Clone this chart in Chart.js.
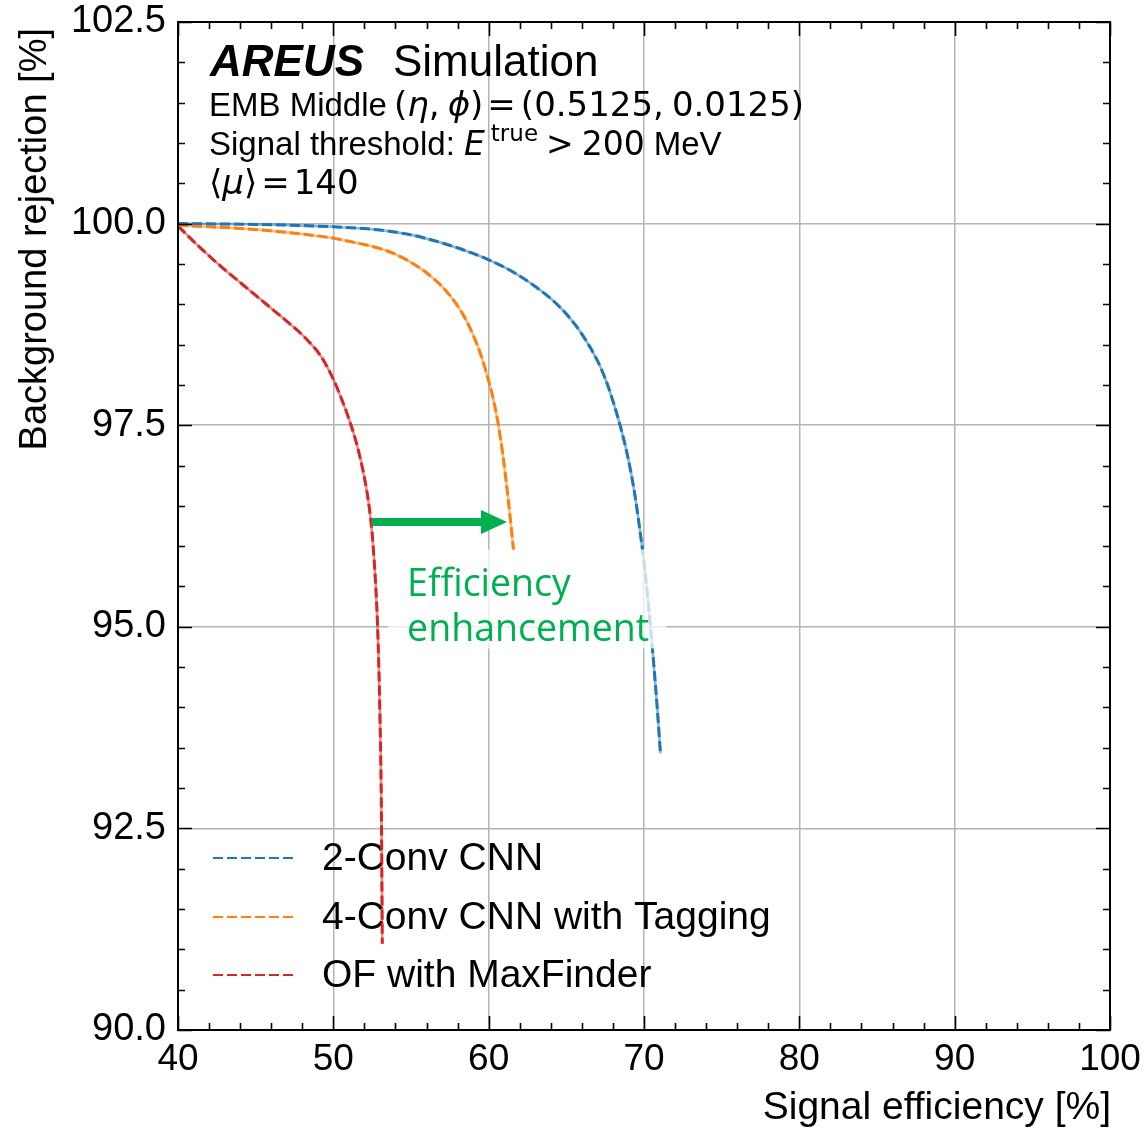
<!DOCTYPE html>
<html>
<head>
<meta charset="utf-8">
<script src="https://cdn.jsdelivr.net/npm/chart.js@4.4.1/dist/chart.umd.min.js"></script>
<style>
  html, body { margin: 0; padding: 0; background: #ffffff; }
  #wrap { width: 1144px; height: 1128px; }
</style>
</head>
<body>
<div id="wrap"><canvas id="c" width="1144" height="1128"></canvas></div>
<script>
// ROC-style curves: signal efficiency [%] vs background rejection [%]
const seriesNames = ['2-Conv CNN', '4-Conv CNN with Tagging', 'OF with MaxFinder'];
const seriesColors = ['#1f77b4', '#ff7f0e', '#d62728'];

const effTwoConv = [40, 45, 50, 53, 55, 57, 59, 60, 61, 62, 63, 64, 65, 66, 67, 67.5, 68, 68.5, 69, 69.4, 69.7, 70, 70.3, 70.6, 70.85, 71.06];
const rejTwoConv = [100.0, 99.99, 99.96, 99.92, 99.86, 99.76, 99.63, 99.55, 99.46, 99.35, 99.22, 99.07, 98.88, 98.63, 98.3, 98.08, 97.8, 97.47, 97.07, 96.65, 96.25, 95.8, 95.25, 94.6, 94.0, 93.43];

const effFourConv = [40, 42, 44, 46, 48, 50, 51, 52, 53, 54, 55, 56, 57, 57.5, 58, 58.5, 59, 59.5, 60, 60.3, 60.6, 60.9, 61.2, 61.4, 61.6];
const rejFourConv = [99.98, 99.96, 99.94, 99.91, 99.87, 99.82, 99.78, 99.74, 99.69, 99.62, 99.52, 99.39, 99.22, 99.11, 98.98, 98.82, 98.62, 98.37, 98.05, 97.82, 97.53, 97.15, 96.68, 96.33, 95.95];

const effOF = [40, 41, 42, 43, 44, 45, 46, 47, 48, 48.5, 49, 49.5, 50, 50.5, 51, 51.5, 52, 52.3, 52.5, 52.7, 52.85, 53.0, 53.1, 53.15];
const rejOF = [99.97, 99.78, 99.6, 99.43, 99.27, 99.11, 98.95, 98.79, 98.62, 98.52, 98.41, 98.26, 98.07, 97.84, 97.58, 97.27, 96.85, 96.5, 96.15, 95.6, 95.0, 93.9, 92.6, 91.07];

const xTicks = [40, 50, 60, 70, 80, 90, 100];
const yTicks = [90, 92.5, 95, 97.5, 100, 102.5];
const xMinorStep = 2;
const yMinorStep = 0.5;

// annotation anchors, in data units
const arrowFrom = { x: 52.49, y: 96.3 };
const arrowTo = { x: 61.18, y: 96.3 };
const noteAnchor = { x: 54.75, y: 95.55 };
const noteLines = ['Efficiency', 'enhancement'];

const FONT = '"Liberation Sans", Arial, Helvetica, sans-serif';
const MATH = '"DejaVu Sans", sans-serif';
const GREEN = '#00b050';

function toPoints(xs, ys) { return xs.map((x, i) => ({ x: x, y: ys[i] })); }
const allX = [effTwoConv, effFourConv, effOF];
const allY = [rejTwoConv, rejFourConv, rejOF];

const datasets = [];
// soft solid under-stroke for each curve
for (let i = 0; i < 3; i++) {
  datasets.push({
    label: '_under' + i,
    data: toPoints(allX[i], allY[i]),
    borderColor: seriesColors[i] + '88',
    borderWidth: 2.6,
    pointRadius: 0,
    showLine: true,
    cubicInterpolationMode: 'monotone'
  });
}
// dashed curves
for (let i = 0; i < 3; i++) {
  datasets.push({
    label: seriesNames[i],
    data: toPoints(allX[i], allY[i]),
    borderColor: seriesColors[i],
    borderWidth: 3,
    borderDash: [10, 4],
    pointRadius: 0,
    showLine: true,
    cubicInterpolationMode: 'monotone'
  });
}

// draws runs of text in mixed fonts: [text, font, dy, gapAfter]
function drawMixed(ctx, x, y, parts) {
  let cx = x;
  for (const p of parts) {
    ctx.font = p[1];
    ctx.fillText(p[0], cx, y + (p[2] || 0));
    cx += ctx.measureText(p[0]).width + (p[3] || 0);
  }
  return cx;
}

const decorations = {
  id: 'decorations',
  beforeDatasetsDraw(chart) {
    const ctx = chart.ctx;
    const a = chart.chartArea;
    ctx.save();
    ctx.fillStyle = '#000';
    ctx.textBaseline = 'alphabetic';
    ctx.textAlign = 'left';
    // header
    const x0 = a.left + 31;
    ctx.font = 'italic bold 44px ' + FONT;
    ctx.fillText('AREUS', x0 + 1, 76);
    ctx.font = '44px ' + FONT;
    ctx.fillText('Simulation', a.left + 215, 76);

    const f = '33px ' + FONT;
    const m = '34px ' + MATH, mi = 'oblique 34px ' + MATH, ms = '23px ' + MATH;
    drawMixed(ctx, x0, 116, [
      ['EMB Middle ', f, 0, -2],
      ['(', m], ['η', mi], [',', m, 0, 8], ['ϕ', mi], [')', m, 0, 4],
      ['=', m, 0, 5],
      ['(0.5125,', m, 0, 8], ['0.0125)', m]
    ]);
    drawMixed(ctx, x0, 155, [
      ['Signal threshold: ', f, 0, 0], ['E', 'oblique 33px ' + MATH, 0, 6], ['true', ms, -14, 8], ['>', '33px ' + MATH, 0, 8], ['200', '33px ' + MATH, 0, 9], ['MeV', f]
    ]);
    drawMixed(ctx, x0, 194, [
      ['⟨', m], ['μ', mi], ['⟩', m, 0, 4], ['=', m, 0, 4], ['140', m]
    ]);

    // legend
    const rowsY = [858, 917, 975];
    for (let i = 0; i < 3; i++) {
      ctx.save();
      ctx.strokeStyle = seriesColors[i];
      ctx.lineWidth = 2.2;
      ctx.setLineDash([10, 4]);
      ctx.beginPath();
      ctx.moveTo(a.left + 35, rowsY[i]);
      ctx.lineTo(a.left + 115, rowsY[i]);
      ctx.stroke();
      ctx.restore();
      ctx.font = '39px ' + FONT;
      ctx.textBaseline = 'middle';
      ctx.fillStyle = '#000';
      ctx.fillText(seriesNames[i], a.left + 144, rowsY[i] + 1);
    }
    ctx.restore();
  },
  afterDatasetsDraw(chart) {
    const ctx = chart.ctx;
    const a = chart.chartArea;
    const xs = chart.scales.x, ys = chart.scales.y;
    ctx.save();

    // arrow
    const ax0 = xs.getPixelForValue(arrowFrom.x), ay = ys.getPixelForValue(arrowFrom.y);
    const ax1 = xs.getPixelForValue(arrowTo.x);
    ctx.fillStyle = GREEN;
    ctx.fillRect(ax0, ay - 4, (ax1 - 25) - ax0, 8);
    ctx.beginPath();
    ctx.moveTo(ax1 - 26, ay - 12);
    ctx.lineTo(ax1, ay);
    ctx.lineTo(ax1 - 26, ay + 12);
    ctx.closePath();
    ctx.fill();

    // note with translucent backing
    const nx = xs.getPixelForValue(noteAnchor.x), ny = ys.getPixelForValue(noteAnchor.y);
    ctx.fillStyle = 'rgba(255,255,255,0.75)';
    ctx.fillRect(nx - 19, ny - 33, 278, 99);
    ctx.fillStyle = GREEN;
    ctx.font = '37.5px "Open Sans", "Noto Sans", sans-serif';
    ctx.textBaseline = 'middle';
    ctx.fillText(noteLines[0], nx, ny + 3);
    ctx.fillText(noteLines[1], nx, ny + 48);

    // frame
    ctx.strokeStyle = '#000';
    ctx.lineWidth = 2;
    ctx.strokeRect(a.left, a.top, a.right - a.left, a.bottom - a.top);

    // inward ticks on all four sides
    ctx.lineWidth = 1.6;
    ctx.beginPath();
    const major = 14, minor = 7;
    for (let v = xs.min; v <= xs.max + 1e-9; v += xMinorStep) {
      const px = Math.round(xs.getPixelForValue(v)) + 0.5;
      const len = xTicks.some(t => Math.abs(t - v) < 1e-6) ? major : minor;
      ctx.moveTo(px, a.bottom); ctx.lineTo(px, a.bottom - len);
      ctx.moveTo(px, a.top); ctx.lineTo(px, a.top + len);
    }
    for (let v = ys.min; v <= ys.max + 1e-9; v += yMinorStep) {
      const py = Math.round(ys.getPixelForValue(v)) + 0.5;
      const len = yTicks.some(t => Math.abs(t - v) < 1e-6) ? major : minor;
      ctx.moveTo(a.left, py); ctx.lineTo(a.left + len, py);
      ctx.moveTo(a.right, py); ctx.lineTo(a.right - len, py);
    }
    ctx.stroke();

    // axis titles
    ctx.fillStyle = '#000';
    ctx.font = '39px ' + FONT;
    ctx.textAlign = 'right';
    ctx.textBaseline = 'alphabetic';
    ctx.fillText('Signal efficiency [%]', a.right + 1, 1119);
    ctx.save();
    ctx.font = '38px ' + FONT;
    ctx.translate(46, a.top + 6);
    ctx.rotate(-Math.PI / 2);
    ctx.textAlign = 'right';
    ctx.fillText('Background rejection [%]', 0, 0);
    ctx.restore();

    ctx.restore();
  }
};

new Chart(document.getElementById('c'), {
  type: 'scatter',
  data: { datasets: datasets },
  options: {
    responsive: false,
    devicePixelRatio: 1,
    animation: false,
    layout: { padding: { top: 22, right: 34, left: 0, bottom: 0 } },
    plugins: { legend: { display: false }, tooltip: { enabled: false } },
    scales: {
      x: {
        type: 'linear', min: 40, max: 100,
        afterFit: s => { s.height = 98; s.paddingLeft = 0; s.paddingRight = 0; },
        afterBuildTicks: s => { s.ticks = xTicks.map(v => ({ value: v })); },
        grid: { color: '#b4b4b4', lineWidth: 1.5, drawTicks: false },
        border: { display: false },
        ticks: { color: '#000', font: { family: FONT, size: 37 }, padding: 8, maxRotation: 0, callback: v => String(v) }
      },
      y: {
        type: 'linear', min: 90, max: 102.5,
        afterFit: s => { s.width = 178; s.paddingTop = 0; s.paddingBottom = 0; },
        afterBuildTicks: s => { s.ticks = yTicks.map(v => ({ value: v })); },
        grid: { color: '#b4b4b4', lineWidth: 1.5, drawTicks: false },
        border: { display: false },
        ticks: { color: '#000', font: { family: FONT, size: 38 }, padding: 12, callback: v => Number(v).toFixed(1) }
      }
    }
  },
  plugins: [decorations]
});
</script>
</body>
</html>
